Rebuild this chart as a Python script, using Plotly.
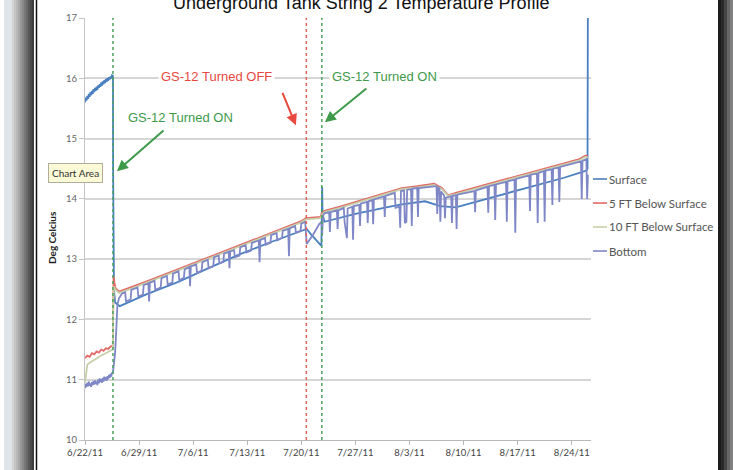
import pandas as pd
import plotly.graph_objects as go

# ---------------- data ----------------
title_text = "Underground Tank String 2 Temperature Profile"
start_date = "2011-06-22"
axis_end_days = 65.5
tick_dates = ["2011-06-22", "2011-06-29", "2011-07-06", "2011-07-13", "2011-07-20",
              "2011-07-27", "2011-08-03", "2011-08-10", "2011-08-17", "2011-08-24"]
tick_labels = ["6/22/11", "6/29/11", "7/6/11", "7/13/11", "7/20/11",
               "7/27/11", "8/3/11", "8/10/11", "8/17/11", "8/24/11"]
y_ticks = [10, 11, 12, 13, 14, 15, 16, 17]

series_names = ["Surface", "5 FT Below Surface", "10 FT Below Surface", "Bottom"]
series_colors = ["#4a7fc0", "#e26a68", "#c6d0a8", "#7f87c6"]

# days since 6/22/11 00:00
surface_days = [0.0, 0.1, 0.2, 0.3, 0.4, 0.5, 0.6, 0.7, 0.8, 0.9, 1.0, 1.1, 1.2, 1.3, 1.4, 1.5,
                1.6, 1.7, 1.8, 1.9, 2.0, 2.1, 2.2, 2.3, 2.4, 2.5, 2.6, 2.7, 2.8, 2.9, 3.0, 3.1,
                3.2, 3.3, 3.4, 3.5, 3.6,
                3.62, 3.64, 3.68, 3.75, 3.9,
                4.5, 8, 12, 16, 20, 24, 28,
                28.7, 29.2, 29.8, 30.4, 30.6, 30.65, 30.7, 30.75, 31,
                35, 39, 41, 44, 46, 48, 50, 54, 58, 62, 64, 64.9, 65.05, 65.1]
surface_vals = [15.60, 15.68, 15.63, 15.71, 15.66, 15.74, 15.69, 15.77, 15.72, 15.79, 15.74,
                15.82, 15.77, 15.84, 15.79, 15.86, 15.81, 15.88, 15.84, 15.90, 15.86, 15.93,
                15.88, 15.95, 15.90, 15.97, 15.92, 15.99, 15.94, 16.00, 15.96, 16.02, 15.98,
                16.03, 16.00, 16.05, 16.04,
                16.05, 14.5, 13.0, 12.5, 12.28,
                12.22, 12.42, 12.62, 12.85, 13.08, 13.28, 13.46,
                13.5, 13.42, 13.33, 13.25, 13.22, 13.7, 14.2, 13.75, 13.62,
                13.75, 13.86, 13.91, 13.96, 13.88, 13.86, 13.93, 14.07, 14.2, 14.35, 14.43,
                14.47, 14.5, 17.5]

ft5_days = [0, 0.3, 0.6, 0.9, 1.2, 1.5, 1.8, 2.1, 2.4, 2.7, 3.0, 3.3, 3.6,
            3.64, 3.7, 3.8, 3.95, 4.4, 6, 8, 10, 12, 14, 16, 18, 20, 22, 24, 26, 28,
            28.6, 30.5, 30.65, 31, 33, 35, 37, 39, 41, 43, 45.2, 46.2, 47, 48, 50, 52,
            54, 56, 58, 60, 62, 64, 64.8, 65.1]
ft5_vals = [11.36, 11.40, 11.38, 11.44, 11.42, 11.47, 11.45, 11.50, 11.48, 11.52, 11.51,
            11.55, 11.56,
            12.2, 12.72, 12.62, 12.52, 12.46, 12.53, 12.63, 12.73, 12.83, 12.93, 13.03,
            13.13, 13.23, 13.33, 13.43, 13.53, 13.63,
            13.68, 13.70, 13.76, 13.80, 13.87, 13.95, 14.03, 14.10, 14.18, 14.21, 14.25,
            14.18, 14.06, 14.10, 14.17, 14.24, 14.31, 14.38, 14.45, 14.52, 14.59, 14.66,
            14.72, 14.70]

ft10_days = [0, 0.15, 0.3, 0.6, 0.9, 1.2, 1.5, 1.8, 2.1, 2.4, 2.7, 3.0, 3.3, 3.6,
             3.66, 3.75, 3.9, 4.4, 6, 8, 10, 12, 14, 16, 18, 20, 22, 24, 26, 28,
             28.6, 30.5, 30.7, 31, 33, 35, 37, 39, 41, 43, 45.2, 46.2, 47, 48, 50, 52,
             54, 56, 58, 60, 62, 64, 64.8, 65.1]
ft10_vals = [10.95, 11.10, 11.25, 11.28, 11.30, 11.33, 11.35, 11.38, 11.40, 11.42, 11.44,
             11.46, 11.48, 11.50,
             12.3, 12.55, 12.5, 12.44, 12.51, 12.61, 12.71, 12.81, 12.91, 13.01, 13.11,
             13.21, 13.31, 13.41, 13.51, 13.61,
             13.66, 13.68, 13.74, 13.78, 13.85, 13.93, 14.01, 14.08, 14.16, 14.19, 14.23,
             14.16, 14.05, 14.08, 14.15, 14.22, 14.29, 14.36, 14.43, 14.50, 14.57, 14.64,
             14.70, 14.68]

bottom_days = [0.0, 0.1, 0.2, 0.3, 0.4, 0.5, 0.6, 0.7, 0.8, 0.9, 1.0, 1.1, 1.2, 1.3, 1.4, 1.5,
               1.6, 1.7, 1.8, 1.9, 2.0, 2.1, 2.2, 2.3, 2.4, 2.5, 2.6, 2.7, 2.8, 2.9, 3.0, 3.1,
               3.2, 3.3, 3.4, 3.5, 3.6,
               3.7, 3.8, 3.9, 4.0, 4.1, 4.2, 4.4,
               4.8, 5.2, 5.3, 5.9, 6.0, 6.8, 6.9, 7.5, 7.6, 8.2, 8.3, 8.4, 9.0, 9.1, 9.8,
               9.9, 10.6, 10.7, 11.3, 11.4, 12.1, 12.2, 12.8, 12.9, 13.5, 13.6, 13.7, 14.4,
               14.5, 15.1, 15.2, 15.9, 16.0, 16.6, 16.7, 17.3, 17.4, 17.9, 18.0, 18.6, 18.7,
               18.8, 19.3, 19.4, 20.0, 20.1, 20.8, 20.9, 21.5, 21.6, 22.5, 22.6, 22.7, 23.3,
               23.4, 24.0, 24.1, 24.8, 24.9, 25.5, 25.6, 26.3, 26.4, 26.5, 27.2, 27.3, 27.9,
               28.0, 28.5, 28.7, 29.5, 30.3, 30.6, 30.7, 30.8,
               31.0, 31.6, 31.7, 31.8, 32.6, 32.7, 32.8, 33.5, 33.6, 33.9, 34.0, 34.6, 34.7,
               34.8, 35.5, 35.6, 35.7, 36.5, 36.6, 36.7, 37.2, 37.3, 37.4, 38.7, 38.8, 38.9,
               40.1, 40.2, 40.7, 40.8, 40.9, 41.3, 41.4, 41.6, 41.7, 42.2, 42.3, 42.4, 43.0,
               43.1, 43.2, 45.5, 45.6, 45.7, 45.9, 46.0, 46.1, 46.5, 46.6, 46.7, 47.4, 47.5,
               47.6, 48.0, 48.1, 48.2, 50.4, 50.5, 50.6, 52.1, 52.2, 52.3, 53.0, 53.1, 53.2,
               54.5, 54.6, 54.7, 55.6, 55.7, 55.8, 57.5, 57.6, 57.7, 58.5, 58.6, 58.7, 59.4,
               59.5, 59.6, 60.4, 60.5, 60.6, 61.3, 61.4, 61.5, 63.0, 64.2, 64.3, 64.4, 64.9,
               65.0, 65.1]
bottom_vals = [10.86, 10.93, 10.88, 10.95, 10.89, 10.97, 10.90, 10.94, 10.88, 10.96,
               10.91, 10.98, 10.92, 10.99, 10.93, 10.97, 10.91, 11.00, 10.94, 11.02,
               10.96, 11.01, 10.95, 11.03, 10.97, 11.05, 10.99, 11.04, 10.98, 11.06,
               11.01, 11.08, 11.03, 11.10, 11.05, 11.12, 11.10,
               11.2, 11.3, 11.45, 11.7, 12.0, 12.25, 12.35,
               12.43, 12.45, 12.30, 12.33, 12.49, 12.53, 12.38, 12.41, 12.57, 12.60, 12.30,
               12.61, 12.64, 12.49, 12.53, 12.685, 12.72, 12.58, 12.61, 12.76, 12.80, 12.65,
               12.69, 12.83, 12.87, 12.55, 12.88, 12.91, 12.77, 12.81, 12.95, 12.99, 12.85,
               12.88, 13.03, 13.06, 12.93, 12.95, 13.09, 13.12, 12.85, 13.13, 13.15, 13.03,
               13.06, 13.20, 13.23, 13.11, 13.14, 13.27, 13.31, 12.95, 13.32, 13.35, 13.24,
               13.27, 13.40, 13.43, 13.31, 13.35, 13.47, 13.50, 13.05, 13.51, 13.55, 13.44,
               13.47, 13.59, 13.62, 13.25, 13.40, 13.58, 13.62, 13.40, 13.72,
               13.76, 13.78, 13.45, 13.78, 13.81, 13.50, 13.81, 13.85, 13.62, 13.35, 13.84,
               13.87, 13.32, 13.88, 13.90, 13.55, 13.92, 13.95, 13.60, 13.96, 13.98, 13.58,
               13.99, 14.04, 13.70, 14.05, 14.10, 13.85, 13.87, 13.52, 14.13, 14.14, 13.60,
               13.62, 14.15, 14.16, 13.55, 14.17, 14.18, 13.70, 14.18, 14.21, 13.75, 14.20,
               14.16, 13.62, 14.12, 14.05, 13.68, 14.02, 14.04, 13.60, 14.05, 14.06, 13.50,
               14.07, 14.13, 13.78, 14.14, 14.20, 13.77, 14.21, 14.23, 13.65, 14.24, 14.28,
               13.62, 14.29, 14.32, 13.44, 14.33, 14.39, 13.80, 14.40, 14.42, 13.60, 14.43,
               14.46, 13.62, 14.47, 14.49, 13.90, 14.50, 14.52, 13.95, 14.53, 14.58, 14.62,
               14.00, 14.63, 14.66, 14.00, 14.40]

event_days = [3.62, 28.65, 30.66]
event_colors = ["#4aa35c", "#e8605a", "#4aa35c"]

note_texts = ["GS-12 Turned ON", "GS-12 Turned OFF", "GS-12 Turned ON"]
note_colors = ["#3e9a4a", "#e8483e", "#3e9a4a"]
note_text_days = [12.3, 17.0, 38.8]
note_text_vals = [15.35, 16.03, 16.03]
arrow_tip_days = [4.14, 27.3, 31.05]
arrow_tip_vals = [14.46, 15.22, 15.27]

# ---------------- figure ----------------
t0 = pd.Timestamp(start_date)


def to_dates(days):
    return t0 + pd.to_timedelta(days, unit="D")


all_days = [surface_days, ft5_days, ft10_days, bottom_days]
all_vals = [surface_vals, ft5_vals, ft10_vals, bottom_vals]

fig = go.Figure()
for name, color, d, v in zip(series_names, series_colors, all_days, all_vals):
    fig.add_trace(go.Scatter(x=to_dates(d), y=v, mode="lines", name=name,
                             line=dict(color=color, width=1.8), showlegend=False))

# plot area in pixels (for placing decorations)
L, R, T, B = 85, 591, 18, 440


def px(x):
    return (x - L) / (R - L)


def py(y):
    return (B - y) / (B - T)


shapes = []
# event lines
for d, c in zip(event_days, event_colors):
    shapes.append(dict(type="line", xref="x", yref="paper",
                       x0=to_dates([d])[0], x1=to_dates([d])[0], y0=0, y1=1,
                       line=dict(color=c, width=1.5, dash="dot")))

# window frame decorations (screenshot border)
shapes.append(dict(type="rect", xref="paper", yref="paper", x0=px(4), x1=px(12),
                   y0=py(470), y1=py(0), fillcolor="#dfe5e9", line=dict(width=0), layer="below"))
grad = ["#d4d4d4", "#c6c6c6", "#b8b8b8", "#a8a8a8", "#989898", "#888888", "#787878",
        "#686868", "#585858", "#4a4a4a", "#3e3e3e"]
for i, g in enumerate(grad):
    shapes.append(dict(type="rect", xref="paper", yref="paper", x0=px(12 + 2 * i),
                       x1=px(14 + 2 * i), y0=py(470), y1=py(0), fillcolor=g,
                       line=dict(width=0), layer="below"))
shapes.append(dict(type="line", xref="paper", yref="paper", x0=px(36.5), x1=px(36.5),
                   y0=py(470), y1=py(0), line=dict(color="#111111", width=1.5)))
rgrad = ["#1c1c1c", "#2a2a2a", "#474747", "#666666", "#808080"]
for i, g in enumerate(rgrad):
    shapes.append(dict(type="rect", xref="paper", yref="paper", x0=px(718 + 3 * i),
                       x1=px(721 + 3 * i), y0=py(470), y1=py(0), fillcolor=g,
                       line=dict(width=0), layer="below"))

# custom legend
legend_y = [179, 203, 227, 251]
for name, color, yy in zip(series_names, series_colors, legend_y):
    shapes.append(dict(type="line", xref="paper", yref="paper", x0=px(593), x1=px(607),
                       y0=py(yy), y1=py(yy), line=dict(color=color, width=1.6)))

annotations = []
for name, yy in zip(series_names, legend_y):
    annotations.append(dict(xref="paper", yref="paper", x=px(607), y=py(yy), text=name,
                            showarrow=False, xanchor="left", yanchor="middle",
                            font=dict(family="Lato", size=11.5, color="#555555")))

# notes and arrows
for txt, c, td, tv, ad, av, axo, ayo in zip(note_texts, note_colors, note_text_days,
                                            note_text_vals, arrow_tip_days, arrow_tip_vals,
                                            [48, -14, 43], [-42, -34, -35]):
    annotations.append(dict(xref="x", yref="y", x=to_dates([td])[0], y=tv, text=txt,
                            showarrow=False, bgcolor="white", borderpad=2,
                            font=dict(family="Liberation Sans", size=13, color=c)))
    annotations.append(dict(xref="x", yref="y", x=to_dates([ad])[0], y=av, text="",
                            showarrow=True, ax=axo, ay=ayo, arrowhead=2, arrowsize=1.1,
                            arrowwidth=2, arrowcolor=c, standoff=0))

# title (partly cut off at the top, as in the screenshot)
annotations.append(dict(xref="paper", yref="paper", x=px(361), y=py(3), text=title_text,
                        showarrow=False, xanchor="center", yanchor="middle",
                        font=dict(family="Liberation Sans", size=18, color="#111111")))
# y axis title
annotations.append(dict(xref="paper", yref="paper", x=px(52), y=py(238), text="<b>Deg Celcius</b>",
                        showarrow=False, textangle=-90, xanchor="center", yanchor="middle",
                        font=dict(family="Lato", size=10, color="#222222")))
# tooltip
annotations.append(dict(xref="paper", yref="paper", x=px(75), y=py(173), text="Chart Area",
                        showarrow=False, xanchor="center", yanchor="middle",
                        bgcolor="#fbf9d6", bordercolor="#b0ae98", borderwidth=1, borderpad=3,
                        font=dict(family="Lato", size=10, color="#333333")))

fig.update_layout(
    width=733, height=470,
    margin=dict(l=L, r=733 - R, t=T, b=470 - B),
    paper_bgcolor="white", plot_bgcolor="white",
    showlegend=False,
    shapes=shapes, annotations=annotations,
    xaxis=dict(type="date", range=[t0, to_dates([axis_end_days])[0]],
               tickvals=tick_dates, ticktext=tick_labels, ticks="outside", ticklen=4,
               tickcolor="#b8b8b8", showline=True, linecolor="#b8b8b8", linewidth=1,
               showgrid=False, zeroline=False,
               tickfont=dict(family="Lato", size=9.5, color="#444444")),
    yaxis=dict(range=[10, 17], tickvals=y_ticks, ticks="outside", ticklen=5,
               tickcolor="#c4c4c4", showline=True, linecolor="#c4c4c4", linewidth=1,
               showgrid=True, gridcolor="#d6d6d6", gridwidth=1.5, zeroline=False,
               tickfont=dict(family="Lato", size=9.5, color="#666666")),
)

fig.write_html("out.html", config={"displayModeBar": False},
               post_script="document.body.style.margin='0px';document.body.style.overflow='hidden';")
